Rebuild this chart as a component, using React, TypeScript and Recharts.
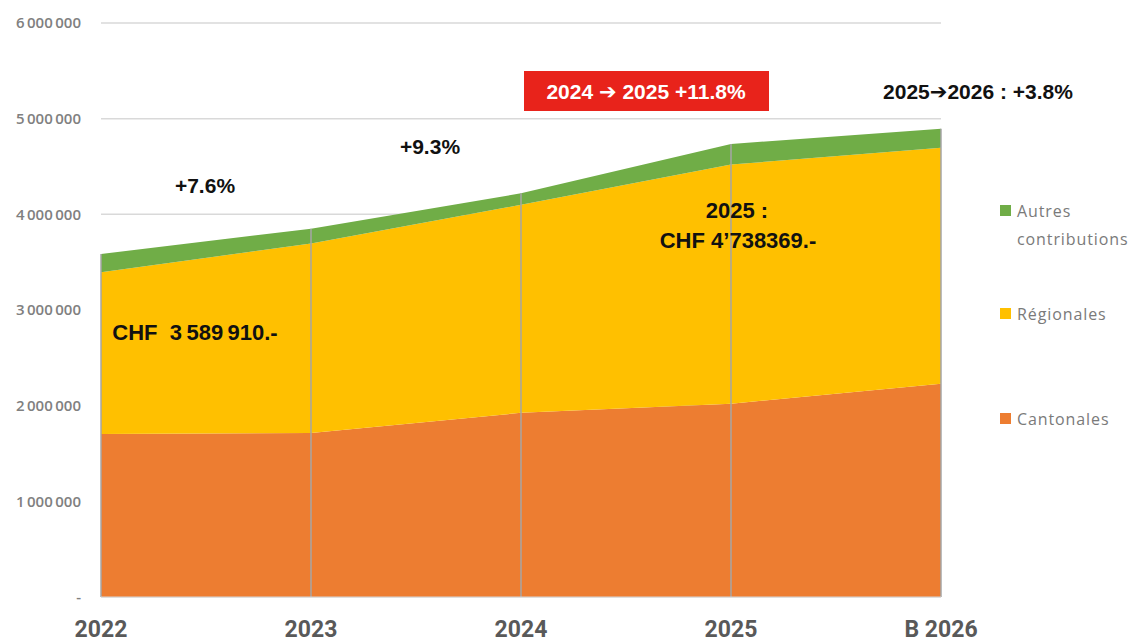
import React from "react";
import { AreaChart, Area, XAxis, YAxis, CartesianGrid, ReferenceLine } from "recharts";

const years = ["2022", "2023", "2024", "2025", "B 2026"];
const cantonales = [1705000, 1715000, 1925000, 2020000, 2230000];
const regionales = [1690000, 1980000, 2175000, 2500000, 2465000];
const autres = [190000, 155000, 120000, 215000, 200000];
const yTicks = [0, 1000000, 2000000, 3000000, 4000000, 5000000, 6000000];

const data = years.map((year, i) => ({
  year,
  cantonales: cantonales[i],
  regionales: regionales[i],
  autres: autres[i],
  total: cantonales[i] + regionales[i] + autres[i],
}));

const COLORS = { cantonales: "#ED7D31", regionales: "#FFC000", autres: "#70AD47" };
const ARIAL = "'Liberation Sans', Arial, sans-serif";

const fmtTick = (v: number) =>
  v === 0 ? "-" : String(v).replace(/\B(?=(\d{3})+(?!\d))/g, "\u2009");

const legendItems = [
  { key: "autres", label: ["Autres", "contributions"], top: 197 },
  { key: "regionales", label: ["Régionales"], top: 300 },
  { key: "cantonales", label: ["Cantonales"], top: 405 },
];

function LegendBox() {
  return (
    <div style={{ position: "absolute", left: 1000, top: 0 }}>
      {legendItems.map((it) => (
        <div key={it.key} style={{ position: "absolute", top: it.top, left: 0, width: 137 }}>
          <div
            style={{
              position: "absolute",
              left: 0,
              top: 8,
              width: 11,
              height: 11,
              background: (COLORS as any)[it.key],
            }}
          />
          <div
            style={{
              position: "absolute",
              left: 17,
              top: 0,
              fontFamily: "'Open Sans', sans-serif",
              fontSize: 16,
              lineHeight: "28px",
              letterSpacing: 0.9,
              color: "#7a7a7a",
              whiteSpace: "nowrap",
            }}
          >
            {it.label.map((l) => (
              <div key={l}>{l}</div>
            ))}
          </div>
        </div>
      ))}
    </div>
  );
}

function Note({ x, y, children, size = 21, color = "#111" }: any) {
  return (
    <div
      style={{
        position: "absolute",
        left: x,
        top: y,
        transform: "translate(-50%, -50%)",
        fontFamily: ARIAL,
        fontWeight: 700,
        fontSize: size,
        color,
        whiteSpace: "pre",
        lineHeight: 1,
      }}
    >
      {children}
    </div>
  );
}

const Arrow = () => (
  <span style={{ fontFamily: "'DejaVu Sans', sans-serif", fontWeight: 700 }}>➔</span>
);

export default function App() {
  return (
    <div style={{ position: "absolute", left: 0, top: 0, width: 1137, height: 642, background: "#fff" }}>
      <AreaChart width={1137} height={642} data={data} margin={{ top: 23, right: 196, bottom: 0, left: 0 }}>
        <CartesianGrid vertical={false} stroke="#d9d9d9" strokeWidth={1.5} />
        <XAxis
          dataKey="year"
          height={45}
          axisLine={{ stroke: "#d9d9d9" }}
          tickLine={false}
          tickSize={0}
          tickMargin={24}
          interval={0}
          tick={{ fill: "#595959", fontSize: 23, fontWeight: 700, fontFamily: "Roboto, sans-serif" }}
        />
        <YAxis
          width={101}
          domain={[0, 6000000]}
          ticks={yTicks}
          axisLine={false}
          tickLine={false}
          tickSize={0}
          tickMargin={20}
          tickFormatter={fmtTick}
          tick={{ fill: "#808080", fontSize: 15, fontWeight: 600, fontFamily: "'Open Sans', sans-serif" }}
        />
        <Area type="linear" dataKey="cantonales" stackId="1" stroke="none" fill={COLORS.cantonales} fillOpacity={1} isAnimationActive={false} />
        <Area type="linear" dataKey="regionales" stackId="1" stroke="none" fill={COLORS.regionales} fillOpacity={1} isAnimationActive={false} />
        <Area type="linear" dataKey="autres" stackId="1" stroke="none" fill={COLORS.autres} fillOpacity={1} isAnimationActive={false} />
        {data.map((d) => (
          <ReferenceLine
            key={d.year}
            segment={[
              { x: d.year, y: 0 },
              { x: d.year, y: d.total },
            ]}
            stroke="#a6a6a6"
            strokeWidth={1.5}
            ifOverflow="visible"
          />
        ))}
      </AreaChart>

      <LegendBox />

      <Note x={205} y={185}>+7.6%</Note>
      <Note x={430} y={146}>+9.3%</Note>
      <div
        style={{
          position: "absolute",
          left: 524,
          top: 71,
          width: 245,
          height: 40,
          background: "#E8231B",
        }}
      />
      <Note x={646} y={92} color="#fff">
        2024 <Arrow /> 2025 +11.8%
      </Note>
      <Note x={978} y={92}>
        2025<Arrow />2026 : +3.8%
      </Note>
      <Note x={737} y={211} size={22}>2025 :</Note>
      <Note x={738} y={241} size={22}>CHF 4’738369.-</Note>
      <Note x={195} y={333} size={22}>{"CHF  3\u2009589\u2009910.-"}</Note>
    </div>
  );
}
